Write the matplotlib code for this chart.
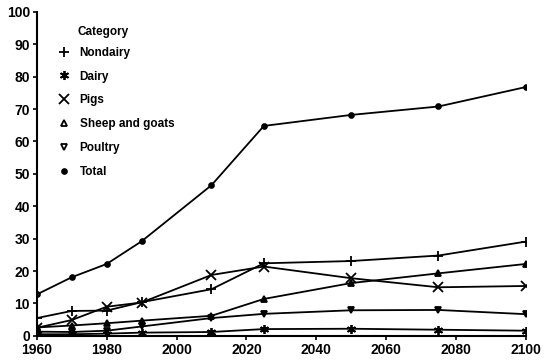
import numpy as np
import matplotlib
matplotlib.use('Agg')
import matplotlib.pyplot as plt
from matplotlib.lines import Line2D

years = [1960, 1970, 1980, 1990, 2010, 2025, 2050, 2075, 2100]
nondairy = [5.5, 7.7, 7.8, 10.4, 14.4, 22.4, 23.1, 24.8, 29.1]
dairy = [0.5, 0.5, 0.7, 1.0, 1.2, 2.1, 2.2, 1.9, 1.6]
pigs = [2.5, 4.9, 9.0, 10.3, 18.8, 21.4, 17.8, 15.0, 15.4]
sheep = [2.6, 3.2, 3.9, 4.7, 6.2, 11.4, 16.3, 19.3, 22.2]
poultry = [1.3, 1.2, 1.6, 2.9, 5.5, 6.8, 7.9, 8.0, 6.7]
total = [12.8, 18.1, 22.2, 29.2, 46.5, 64.8, 68.2, 70.8, 76.8]

labels = ['Nondairy', 'Dairy', 'Pigs', 'Sheep and goats', 'Poultry', 'Total']
series = [nondairy, dairy, pigs, sheep, poultry, total]
markers = ['+', (6, 2, 0), 'x', '^', 'v', 'o']
msizes = [7, 6.5, 7, 5, 5, 3.5]

plt.rcParams['font.family'] = ['Liberation Sans', 'DejaVu Sans']

fig = plt.figure(figsize=(5.5, 3.6), dpi=100)
ax = fig.add_axes([0.067, 0.067, 0.889, 0.9])

for s, m, ms in zip(series, markers, msizes):
    ax.plot(years, s, color='black', lw=1.3, marker=m, ms=ms,
            mew=1.3, mfc='black', mec='black')

ax.set_xlim(1960, 2100)
ax.set_ylim(0, 100)
ax.set_xticks(np.arange(1960, 2101, 20))
ax.set_yticks(np.arange(0, 101, 10))
for sp in ['top', 'right']:
    ax.spines[sp].set_visible(False)
ax.spines['left'].set_linewidth(1.5)
ax.spines['bottom'].set_linewidth(1.5)
ax.tick_params(direction='out', length=3, width=1.2, labelsize=10, pad=2)
for t in ax.get_xticklabels() + ax.get_yticklabels():
    t.set_fontweight('bold')

# legend title drawn separately so the entries sit like the original
fig.text(77 / 550, 1 - 32 / 360, 'Category', fontsize=8.5, fontweight='bold',
         va='center', ha='left')

handles = []
for lab, m, ms in zip(labels, markers, msizes):
    fc = 'white' if m in ('^', 'v') else 'black'
    handles.append(Line2D([], [], ls='none', marker=m, ms=ms, color='black',
                          mfc=fc, mew=1.3, label=lab))
leg = ax.legend(handles=handles, loc='upper left',
                bbox_to_anchor=(0.02, 0.925), frameon=False, fontsize=8.5,
                handlelength=1.2, handletextpad=0.7, labelspacing=1.0)
for t in leg.get_texts():
    t.set_fontweight('bold')

fig.savefig('out.png', dpi=100)
